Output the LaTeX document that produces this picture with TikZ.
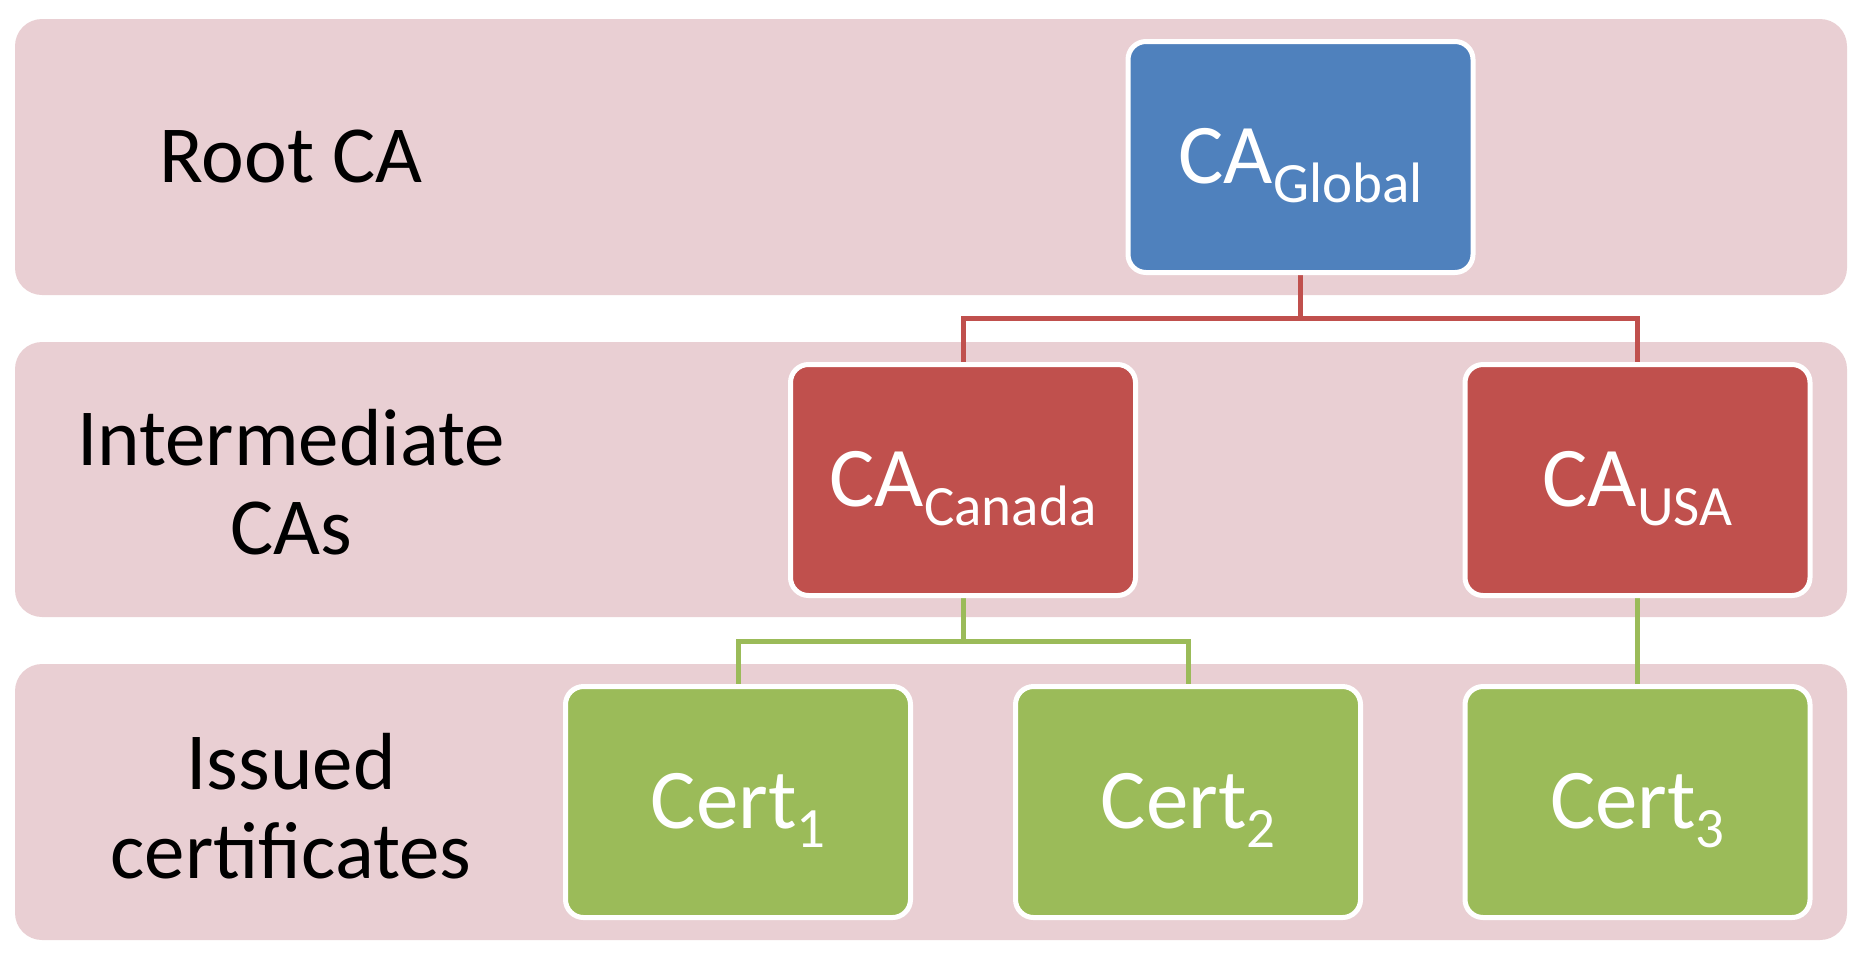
\documentclass[tikz,border=0pt]{standalone}
\usepackage{fontspec}
\setmainfont{Carlito}
\definecolor{bandpink}{HTML}{E9CFD3}
\definecolor{rootblue}{HTML}{4F81BD}
\definecolor{midred}{HTML}{C0504D}
\definecolor{leafgreen}{HTML}{9BBB59}
\newcommand{\boxlabel}[2]{\fontsize{85}{100}\selectfont #1\raisebox{-19pt}{\fontsize{57}{60}\selectfont #2}}
\pgfdeclarelayer{bandlayer}
\pgfdeclarelayer{linklayer}
\pgfsetlayers{bandlayer,linklayer,main}
\begin{document}
\begin{tikzpicture}[x=1pt,y=-1pt,
  band/.style={fill=bandpink, rounded corners=27pt},
  cabox/.style={draw=white, line width=5pt, rounded corners=18pt,
    minimum width=345pt, minimum height=231pt, inner sep=0pt,
    text=white, text height=52pt, text depth=0pt, align=center},
  rowlabel/.style={font=\fontsize{81}{89}\selectfont, align=center, text=black, inner sep=0pt},
  redlink/.style={draw=midred, line width=5pt},
  greenlink/.style={draw=leafgreen, line width=5pt}]
\useasboundingbox (0,0) rectangle (1868,962);
% boxes
\node[cabox, fill=rootblue] (global) at (1300.5,157) {\boxlabel{CA}{Global}};
\node[cabox, fill=midred] (canada) at (963,480) {\boxlabel{CA}{Canada}};
\node[cabox, fill=midred] (usa) at (1637.5,480) {\boxlabel{CA}{USA}};
\node[cabox, fill=leafgreen] (cert1) at (738,802) {\boxlabel{Cert}{1}};
\node[cabox, fill=leafgreen] (cert2) at (1188,802) {\boxlabel{Cert}{2}};
\node[cabox, fill=leafgreen] (cert3) at (1637.5,802) {\boxlabel{Cert}{3}};
% row labels
\node[rowlabel] (lroot) at (291,157) {Root CA};
\node[rowlabel] (linter) at (291,482) {Intermediate\\CAs};
\node[rowlabel] (lissued) at (291,806) {Issued\\certificates};
\coordinate (redbus) at (0,318);
\coordinate (greenbus) at (0,641);
\begin{pgfonlayer}{bandlayer}
\fill[band] (15,19) rectangle (1847,295);
\fill[band] (15,342) rectangle (1847,617);
\fill[band] (15,664) rectangle (1847,940);
\end{pgfonlayer}
\begin{pgfonlayer}{linklayer}
\draw[redlink] (global.center) -- (global.center |- redbus) -| (canada.center);
\draw[redlink] (global.center |- redbus) -| (usa.center);
\draw[greenlink] (canada.center) -- (canada.center |- greenbus) -| (cert1.center);
\draw[greenlink] (canada.center |- greenbus) -| (cert2.center);
\draw[greenlink] (usa.center) -- (cert3.center);
\end{pgfonlayer}
\end{tikzpicture}
\end{document}
